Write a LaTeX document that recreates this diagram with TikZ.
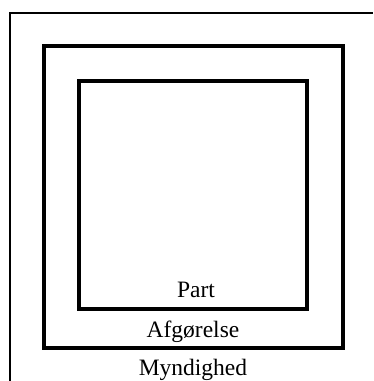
\documentclass[tikz,border=0pt]{standalone}
\usepackage{fontspec}
\setmainfont{Liberation Serif}
\usetikzlibrary{positioning}

\tikzset{
  frame/.style={line width=3.2pt},
  outer/.style={line width=2.6pt},
  lbl/.style={anchor=base, inner sep=0pt, font=\fontsize{23.5}{27}\selectfont}
}

\begin{document}
\begin{tikzpicture}[x=1pt, y=-1pt]
  \useasboundingbox (0,0) rectangle (373,381);
  % outer frame, open at right and bottom
  \draw[outer] (10,381) -- (10,13) -- (373,13);
  % nested boxes
  \draw[frame] (44,46) rectangle (343,348);
  \draw[frame] (79,81) rectangle (307,309);
  \node[lbl] (part) at (196,297) {Part};
  \node[lbl] (afg) at (193,337) {Afgørelse};
  \node[lbl] (myn) at (193,375) {Myndighed};
\end{tikzpicture}
\end{document}
